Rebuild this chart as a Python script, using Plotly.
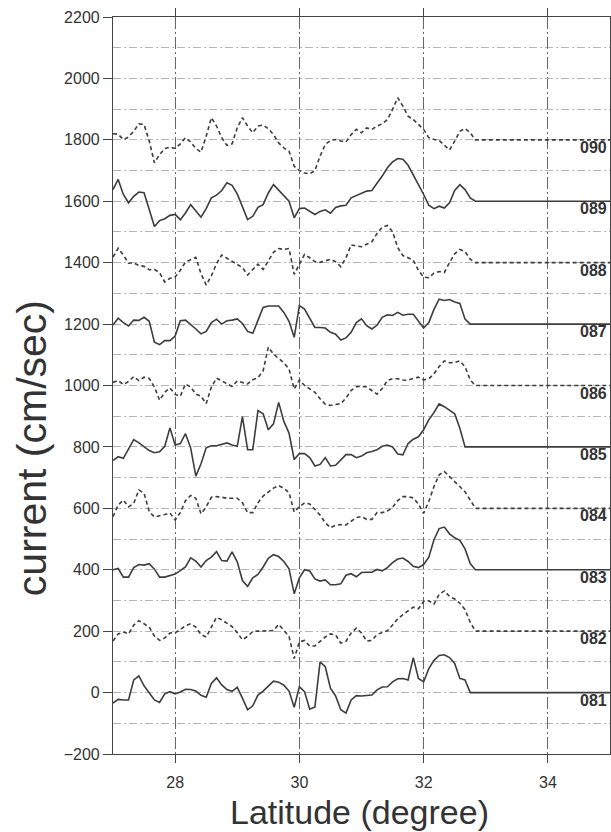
import plotly.graph_objects as go

# Latitude sampling grid (degrees): 27.0 .. 32.833 every 1/12 degree, then flat tail to 35
LAT_START = 27.0
LAT_STEP = 1.0 / 12.0
N_POINTS = 71
LAT_END = 35.0

SERIES_NAMES = ["081", "082", "083", "084", "085", "086", "087", "088", "089", "090"]
OFFSETS = [0, 200, 400, 600, 800, 1000, 1200, 1400, 1600, 1800]

# current anomaly relative to each series' baseline (cm/sec)
S081 = [-34, -22, -24, -24, 41, 54, 22, -2, -24, -32,
        -4, 3, -4, 2, 11, 10, 5, -9, -15, 30,
        48, 25, 10, 4, 17, -18, -56, -43, -8, 5,
        22, 37, 34, 24, 5, -48, 19, 3, -54, -47,
        100, 84, 14, -11, -56, -67, -24, -10, -11, -9,
        -8, 9, 18, 19, 35, 45, 46, 41, 114, 46,
        35, 78, 105, 121, 123, 114, 95, 46, 41, 0,
        0]
S082 = [-32, -9, -3, -9, 20, 34, 24, 13, -16, -30,
        -22, -6, -5, 5, 18, 24, 13, -11, -19, 11,
        45, 37, 25, 15, -5, -28, -17, -1, 0, 0,
        0, 2, 22, 2, -17, -89, -35, -30, -49, -48,
        -33, -19, -9, -12, -39, -33, -6, 10, -6, -32,
        -30, -11, -4, 1, 20, 40, 54, 67, 78, 73,
        97, 99, 88, 120, 131, 113, 105, 91, 70, 29,
        0]
S083 = [0, 4, -24, -24, 7, 17, 15, 20, 2, -24,
        -24, -18, -14, -3, 9, 39, 28, 9, 30, 41,
        59, 30, 28, 58, 26, -35, -54, -26, -15, 9,
        37, 49, 43, 27, 3, -78, -26, 0, -4, -30,
        -37, -33, -49, -49, -46, -18, -13, -23, -9, -8,
        -8, 1, -4, 7, 23, 35, 38, 27, 11, 7,
        17, 41, 98, 134, 139, 117, 104, 96, 68, 20,
        0]
S084 = [-27, 11, 27, 5, 16, 60, 49, -11, -28, -25,
        -20, -15, -38, -14, 25, 42, 33, -18, 5, 36,
        38, 36, 33, 33, 33, 18, -14, -14, 18, 40,
        54, 66, 74, 65, 51, -12, 5, 18, 14, -3,
        -22, -47, -63, -55, -53, -54, -42, -30, -27, -36,
        -36, -14, -14, -9, 3, 25, 38, 38, 34, 14,
        -16, 22, 71, 109, 120, 104, 86, 72, 54, 27,
        0]
S085 = [-44, -32, -37, -6, 24, 13, -1, -12, -19, -16,
        2, 62, 6, 11, 43, -3, -95, -55, -3, 4,
        4, 9, 13, 6, 2, 99, -9, -9, 118, 108,
        56, 75, 145, 83, 45, -41, -22, -22, -35, -62,
        -57, -35, -62, -60, -43, -25, -25, -35, -30, -19,
        -15, -9, 2, 6, 0, -23, -26, 11, 25, 33,
        56, 88, 112, 140, 131, 120, 108, 61, 0, 0,
        0]
S086 = [10, 16, 3, 13, 29, 16, 27, 23, -5, -48,
        -22, -8, -29, -35, 5, -5, -28, -35, -59, -5,
        24, 16, 6, -3, 15, 10, 5, 19, 25, 48,
        125, 102, 87, 74, 54, -12, 18, 0, -11, -22,
        -43, -61, -65, -62, -59, -41, -16, -4, -3, -5,
        -16, -28, -10, 16, 22, 22, 18, 17, 23, 27,
        18, 22, 38, 62, 80, 74, 75, 80, 61, 18,
        0]
S087 = [-3, 19, 5, -6, 13, 12, 22, 9, -59, -67,
        -54, -54, -39, 11, 13, 0, -16, -32, -24, 5,
        16, 0, 11, 13, 17, 2, -24, -30, 9, 54,
        59, 60, 59, 38, 9, -43, 60, 49, 19, -11,
        -11, -13, -27, -33, -52, -45, -27, 5, 17, -5,
        -16, -4, 22, 30, 28, 38, 29, 32, 32, 11,
        -13, 5, 48, 81, 77, 80, 72, 67, 16, 0,
        0]
S088 = [18, 47, 25, -2, -1, -9, -12, -23, -22, -33,
        -63, -51, -47, -25, 2, 10, 17, -36, -73, -43,
        -3, 25, 15, 4, -5, -16, -40, -22, -5, -22,
        5, 34, 46, 43, 46, -38, -5, 27, 16, 3,
        1, 5, 11, 3, -13, 16, 58, 54, 52, 60,
        68, 95, 116, 121, 101, 49, 23, 16, 8, -25,
        -47, -49, -34, -29, -32, 0, 29, 43, 36, 11,
        0]
S089 = [38, 71, 22, -5, 16, 30, 28, -27, -82, -63,
        -57, -46, -43, -60, -38, -11, -33, -52, -24, 11,
        20, 35, 60, 52, 24, -16, -60, -49, -20, -11,
        27, 54, 35, 16, 0, -54, -24, -22, -33, -43,
        -33, -28, -39, -20, -15, -13, 11, 18, 24, 33,
        35, 57, 82, 109, 128, 139, 137, 117, 87, 54,
        22, -13, -24, -16, -22, -5, 35, 54, 38, 11,
        0]
S090 = [20, 18, 1, 9, 28, 52, 50, -4, -75, -48,
        -28, -24, -28, -13, 7, -7, -28, -40, 12, 72,
        45, 7, -18, -13, 39, 72, 45, 23, 45, 48,
        36, 17, -10, -26, -37, -86, -100, -108, -111, -100,
        -53, -15, -2, 1, -4, -7, 17, 34, 23, 39,
        34, 45, 52, 66, 99, 137, 110, 77, 66, 50,
        34, 7, 1, -2, -17, -33, -4, 28, 37, 23,
        0]

SERIES = [S081, S082, S083, S084, S085, S086, S087, S088, S089, S090]

X_TICKS = [28, 30, 32, 34]
Y_RANGE = [-200, 2200]
X_RANGE = [27, 35]

LAT = [LAT_START + i * LAT_STEP for i in range(N_POINTS)]

LINE_COLOR = "#3d3d3d"
TEXT_COLOR = "#333333"
FONT = "Liberation Sans, Arial, Helvetica, sans-serif"

fig = go.Figure()
for k, (name, off, vals) in enumerate(zip(SERIES_NAMES, OFFSETS, SERIES)):
    xs = LAT + [LAT_END]
    ys = [v + off for v in vals] + [off]
    dash = "solid" if k % 2 == 0 else "4px,3px"
    fig.add_trace(go.Scatter(
        x=xs, y=ys, mode="lines", name=name,
        line=dict(color=LINE_COLOR, width=1.6, dash=dash),
        showlegend=False, hoverinfo="skip",
    ))
    fig.add_annotation(
        x=X_RANGE[1], y=off, xref="x", yref="y",
        text="<b>" + name + "</b>", showarrow=False,
        xanchor="right", yanchor="top", yshift=3, xshift=-1,
        font=dict(family=FONT, size=16, color=TEXT_COLOR),
    )

# axis titles placed as annotations for precise positioning
fig.add_annotation(
    x=0, y=0.415, xref="paper", yref="paper",
    text="current (cm/sec)", showarrow=False, textangle=-90,
    xanchor="center", yanchor="middle", xshift=-81,
    font=dict(family=FONT, size=41, color=TEXT_COLOR),
)
fig.add_annotation(
    x=0.5, y=0, xref="paper", yref="paper",
    text="Latitude (degree)", showarrow=False,
    xanchor="center", yanchor="middle", yshift=-58, xshift=-2,
    font=dict(family=FONT, size=34, color=TEXT_COLOR),
)

fig.update_layout(
    width=611, height=832,
    margin=dict(l=113, r=1, t=17, b=78),
    paper_bgcolor="white", plot_bgcolor="white",
    font=dict(family=FONT, color=TEXT_COLOR),
    xaxis=dict(
        range=X_RANGE, tickmode="array", tickvals=X_TICKS,
        ticks="outside", ticklen=8, tickcolor="#444", tickwidth=1,
        showline=True, linecolor="#444", linewidth=1.2, mirror="ticks",
        showgrid=True, gridcolor="#666666", gridwidth=1,
        griddash="12px,3px,2px,3px",
        zeroline=False, ticklabelstandoff=6,
        tickfont=dict(size=16, color=TEXT_COLOR),
    ),
    yaxis=dict(
        range=Y_RANGE, tickmode="linear", tick0=0, dtick=200,
        ticks="outside", ticklen=9, tickcolor="#444", tickwidth=1,
        showline=True, linecolor="#444", linewidth=1.2, mirror=True,
        showgrid=True, gridcolor="#b5b5b5", gridwidth=1,
        griddash="8px,3px,2px,3px",
        minor=dict(dtick=100, showgrid=True, gridcolor="#b5b5b5", gridwidth=1,
                   griddash="8px,3px,2px,3px", ticks=""),
        zeroline=False,
        tickfont=dict(size=16, color=TEXT_COLOR),
    ),
    yaxis2=dict(
        overlaying="y", side="left", anchor="x",
        range=Y_RANGE, tickmode="linear", tick0=0, dtick=50,
        ticks="inside", ticklen=5, tickcolor="#444", tickwidth=1,
        showticklabels=False, showgrid=False, zeroline=False,
        showline=True, linecolor="#444", linewidth=1.2, mirror="ticks",
    ),
)

fig.write_html("out.html")
